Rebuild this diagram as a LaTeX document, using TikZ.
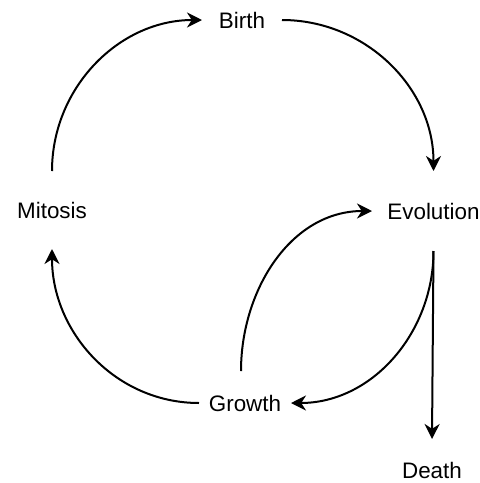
\documentclass[tikz,border=0pt]{standalone}
\usepackage{fontspec}
\setmainfont{Liberation Sans}
\usetikzlibrary{arrows.meta}

\begin{document}
\begin{tikzpicture}[x=.5pt,y=-.5pt,line width=1pt,
  stage/.style={inner sep=0pt,font=\fontsize{11.2}{13}\selectfont},
  flow/.style={-{Stealth[length=7.5pt,width=7.5pt,inset=2.4pt]}}]
\path[use as bounding box] (0,0) rectangle (480,483);
\node[stage,minimum width=78pt*.5,minimum height=40pt*.5] (birth) at (242,20) {Birth};
\node[stage,minimum width=80pt*.5,minimum height=76pt*.5] (mitosis) at (52,210) {Mitosis};
\node[stage,minimum width=121pt*.5,minimum height=78pt*.5] (evolution) at (433.5,211) {Evolution};
\node[stage,minimum width=90pt*.5,minimum height=62pt*.5] (growth) at (245,403) {Growth};
\node[stage,minimum width=60pt*.5,minimum height=60pt*.5] (death) at (432,470) {Death};
% the cycle
\draw[flow] (mitosis.north) to[out=90,in=180] (birth.west);
\draw[flow] (birth.east) to[out=0,in=90] (evolution.north);
\draw[flow] (evolution.south) to[out=-90,in=0] (growth.east);
\draw[flow] (growth.west) to[out=180,in=-90] (mitosis.south);
\draw[flow] ([xshift=-2pt]growth.north) to[out=90,in=180] (evolution.west);
\draw[flow] (evolution.south) -- (death.north);
\end{tikzpicture}
\end{document}
